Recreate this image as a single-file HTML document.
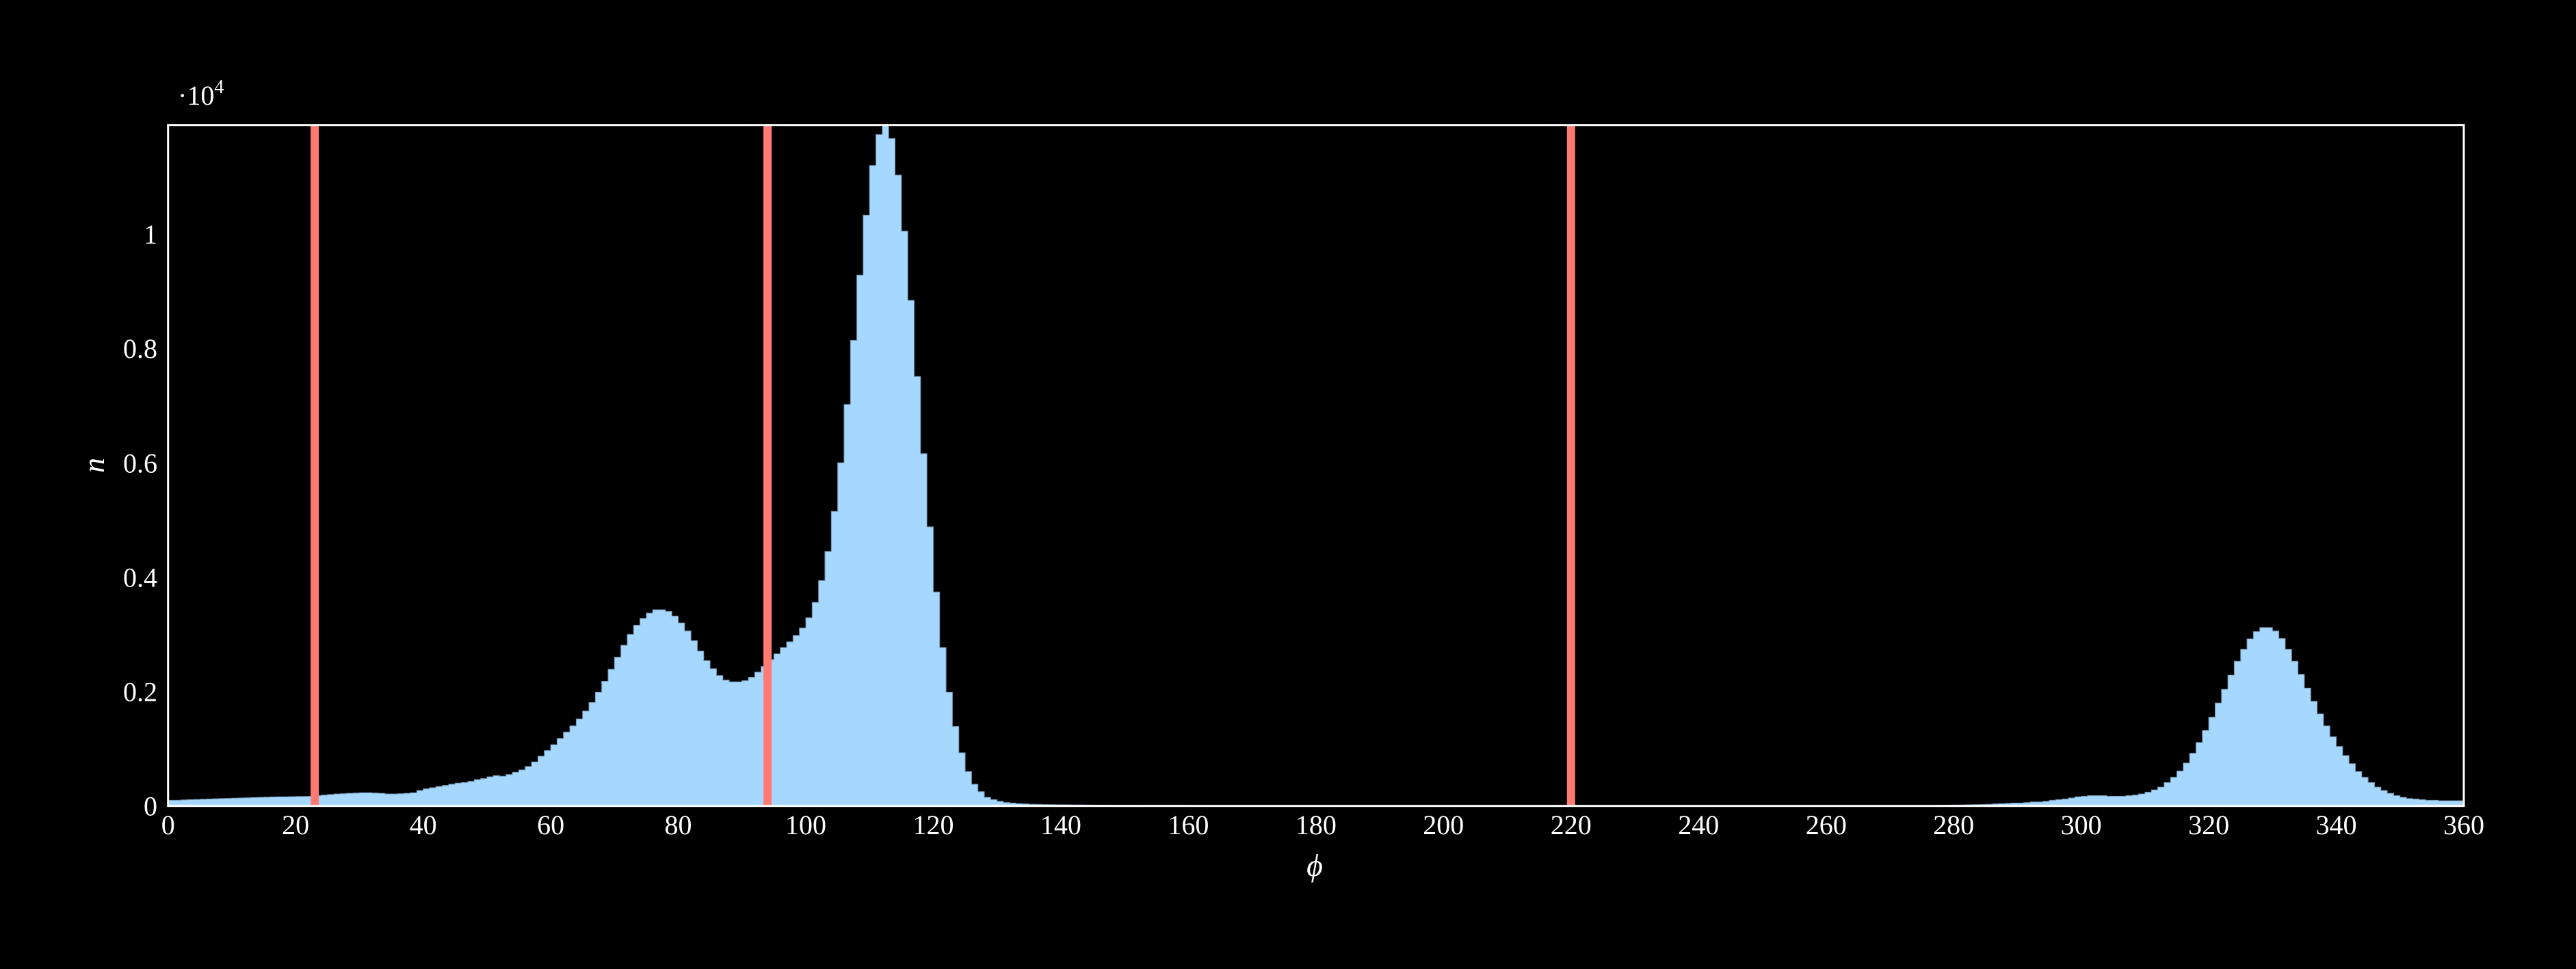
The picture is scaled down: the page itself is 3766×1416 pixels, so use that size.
<!DOCTYPE html>
<html><head><meta charset="utf-8"><title>Histogram of phi</title>
<style>
html,body{margin:0;padding:0;background:#000;}
svg{display:block;}
text{font-family:"Liberation Serif","DejaVu Serif",serif;fill:#fff;}
</style></head>
<body>
<svg id="chart" width="3766" height="1416" viewBox="0 0 3766 1416" xmlns="http://www.w3.org/2000/svg">
<rect x="0" y="0" width="3766" height="1416" fill="#000"/>
<g id="bars"></g>
<g id="vlines"></g>
<rect x="245.7" y="182.7" width="3356.3" height="995" fill="none" stroke="#fff" stroke-width="3"/>
<g id="xticks"></g>
<g id="yticks"></g>
<text x="1922" y="1280" font-size="46" font-style="italic" text-anchor="middle">ϕ</text>
<text x="0" y="0" font-size="44" font-style="italic" text-anchor="middle" transform="translate(152,680) rotate(-90)">n</text>
<text x="260" y="153" font-size="40">·10<tspan font-size="28" dy="-17">4</tspan></text>
</svg>
<script>
const binStart = 0;
const binWidth = 1;
const counts = [
0.010,0.010,0.0105,0.011,0.0113,0.0117,0.012,0.0125,0.013,0.0133,
0.0137,0.014,0.0143,0.0147,0.015,0.0153,0.0157,0.016,0.016,0.0163,
0.0165,0.0167,0.017,0.018,0.019,0.020,0.021,0.0215,0.022,0.0225,
0.023,0.023,0.0225,0.022,0.021,0.021,0.0215,0.022,0.023,0.027,
0.030,0.032,0.034,0.036,0.038,0.040,0.041,0.043,0.046,0.048,
0.051,0.053,0.052,0.055,0.059,0.063,0.069,0.077,0.087,0.097,
0.107,0.118,0.129,0.140,0.152,0.166,0.181,0.199,0.218,0.239,
0.260,0.281,0.300,0.316,0.328,0.337,0.343,0.343,0.340,0.332,
0.320,0.306,0.289,0.271,0.254,0.240,0.228,0.220,0.217,0.217,
0.219,0.225,0.234,0.244,0.256,0.266,0.277,0.287,0.298,0.311,
0.329,0.356,0.394,0.445,0.515,0.600,0.702,0.814,0.928,1.033,
1.120,1.174,1.190,1.167,1.103,1.005,0.884,0.751,0.616,0.488,
0.374,0.277,0.199,0.139,0.093,0.060,0.038,0.025,0.015,0.011,
0.008,0.006,0.005,0.004,0.0035,0.003,0.0028,0.0025,0.0023,0.0021,
0.002,0.0019,0.0018,0.0017,0.0016,0.0015,0.0014,0.0013,0.0012,0.0012,
0.0011,0.0011,0.001,0.001,0.001,0.001,0.001,0.001,0.001,0.001,
0.0008,0.0008,0.0008,0.0008,0.0008,0.0008,0.0008,0.0008,0.0008,0.0008,
0.0007,0.0007,0.0007,0.0007,0.0007,0.0007,0.0007,0.0007,0.0007,0.0007,
0.0006,0.0006,0.0006,0.0006,0.0006,0.0006,0.0006,0.0006,0.0006,0.0006,
0.0006,0.0006,0.0006,0.0006,0.0006,0.0006,0.0006,0.0006,0.0006,0.0006,
0.0005,0.0005,0.0005,0.0005,0.0005,0.0005,0.0005,0.0005,0.0005,0.0005,
0.0005,0.0005,0.0005,0.0005,0.0005,0.0005,0.0005,0.0005,0.0005,0.0005,
0.0005,0.0005,0.0005,0.0005,0.0005,0.0005,0.0005,0.0005,0.0005,0.0005,
0.0005,0.0005,0.0005,0.0005,0.0005,0.0005,0.0005,0.0005,0.0005,0.0005,
0.0005,0.0005,0.0005,0.0005,0.0005,0.0005,0.0005,0.0005,0.0005,0.0005,
0.0005,0.0005,0.0005,0.0005,0.0005,0.0005,0.0005,0.0005,0.0005,0.0005,
0.0005,0.0005,0.0005,0.0005,0.0005,0.0005,0.0005,0.0005,0.0005,0.0005,
0.0006,0.0006,0.0006,0.0007,0.0007,0.0008,0.0009,0.001,0.0012,0.0014,
0.0016,0.0018,0.002,0.0023,0.0026,0.003,0.0035,0.004,0.0045,0.005,
0.005,0.006,0.007,0.007,0.008,0.010,0.011,0.012,0.014,0.016,
0.017,0.018,0.018,0.018,0.017,0.017,0.017,0.018,0.019,0.021,
0.024,0.028,0.033,0.041,0.050,0.061,0.075,0.092,0.111,0.132,
0.155,0.180,0.204,0.229,0.253,0.274,0.292,0.305,0.312,0.312,
0.306,0.293,0.274,0.253,0.230,0.206,0.183,0.161,0.140,0.121,
0.104,0.088,0.074,0.060,0.050,0.041,0.033,0.027,0.022,0.018,
0.015,0.013,0.012,0.011,0.010,0.010,0.009,0.009,0.009,0.009
];
const markerLines = [23, 94, 220];
const xTickValues = [0,20,40,60,80,100,120,140,160,180,200,220,240,260,280,300,320,340,360];
const yTickValues = [0,0.2,0.4,0.6,0.8,1];
const yTickLabels = ["0","0.2","0.4","0.6","0.8","1"];

const X0 = 245.7, X1 = 3602, Y0 = 1177.7, Y1 = 182.7;
const xMin = 0, xMax = 360, yMin = 0, yMax = 1.1906;
function xs(v){ return X0 + (v - xMin) / (xMax - xMin) * (X1 - X0); }
function ys(v){ return Y0 - (v - yMin) / (yMax - yMin) * (Y0 - Y1); }
const NS = "http://www.w3.org/2000/svg";

const barsG = document.getElementById('bars');
let d = "M" + xs(binStart).toFixed(2) + "," + ys(0).toFixed(2);
counts.forEach(function(c, i){
  const a = xs(binStart + i * binWidth), b = xs(binStart + (i + 1) * binWidth);
  const y = ys(Math.min(c, yMax));
  d += " L" + a.toFixed(2) + "," + y.toFixed(2) + " L" + b.toFixed(2) + "," + y.toFixed(2);
});
d += " L" + xs(binStart + counts.length * binWidth).toFixed(2) + "," + ys(0).toFixed(2) + " Z";
const area = document.createElementNS(NS, 'path');
area.setAttribute('d', d);
area.setAttribute('fill', '#a6d7ff');
area.setAttribute('stroke', '#6f8fa8');
area.setAttribute('stroke-width', '1');


barsG.appendChild(area);

const vG = document.getElementById('vlines');
markerLines.forEach(function(v){
  const r = document.createElementNS(NS, 'rect');
  r.setAttribute('x', (xs(v) - 6).toFixed(2));
  r.setAttribute('y', Y1);
  r.setAttribute('width', 12);
  r.setAttribute('height', Y0 - Y1);
  r.setAttribute('fill', '#ff7b72');
  
  
  vG.appendChild(r);
});

const xg = document.getElementById('xticks');
xTickValues.forEach(function(v){
  const t = document.createElementNS(NS, 'text');
  t.setAttribute('x', xs(v));
  t.setAttribute('y', 1219);
  t.setAttribute('font-size', '40');
  t.setAttribute('text-anchor', 'middle');
  t.textContent = String(v);
  
  
  xg.appendChild(t);
});

const yg = document.getElementById('yticks');
yTickValues.forEach(function(v, i){
  const t = document.createElementNS(NS, 'text');
  t.setAttribute('x', 230);
  t.setAttribute('y', ys(v) + 14);
  t.setAttribute('font-size', '40');
  t.setAttribute('text-anchor', 'end');
  t.textContent = yTickLabels[i];
  
  
  yg.appendChild(t);
});
</script>
</body></html>
